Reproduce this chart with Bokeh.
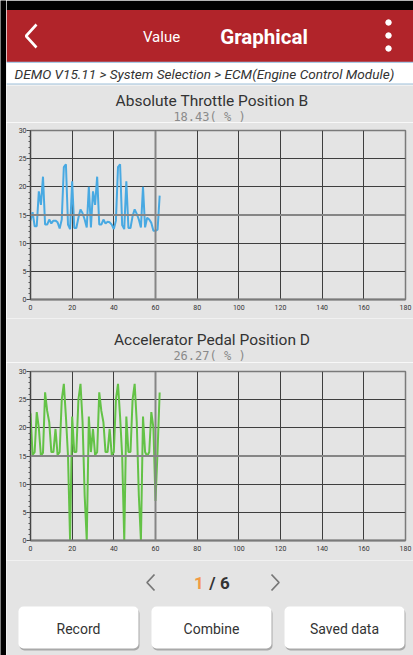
from bokeh.plotting import figure
from bokeh.layouts import column, row
from bokeh.models import Range1d, FixedTicker, Span, BoxAnnotation
from bokeh.core.properties import value
from bokeh.embed import file_html
from bokeh.resources import INLINE

# ---------------- data ----------------
header_back = "Value"
header_title = "Graphical"
breadcrumb = "DEMO V15.11 > System Selection > ECM(Engine Control Module)"
chart_titles = ["Absolute Throttle Position B", "Accelerator Pedal Position D"]
chart_readouts = ["18.43( % )", "26.27( % )"]

sample_index = list(range(63))
throttle_values = [14.0, 15.5, 13.0, 13.0, 19.2, 16.8, 21.8, 13.3, 13.3, 14.2,
                   13.5, 14.0, 14.0, 13.7, 12.6, 14.2, 23.5, 24.0, 13.3, 12.5,
                   21.0, 12.7, 12.7, 14.5, 16.0, 15.3, 14.2, 12.8, 20.0, 12.8,
                   19.2, 16.8, 21.8, 13.3, 13.3, 14.2, 13.5, 13.8, 13.7, 13.3,
                   12.5, 14.0, 23.5, 24.0, 13.2, 12.5, 21.0, 12.7, 12.7, 14.8,
                   16.0, 15.2, 14.2, 12.8, 20.0, 12.8, 14.5, 14.2, 13.6, 12.2,
                   12.2, 12.4, 18.43]
pedal_values = [22.6, 15.2, 15.7, 22.8, 20.0, 15.0, 15.6, 26.3, 23.0, 21.0,
                15.7, 15.7, 19.8, 15.2, 15.7, 25.0, 27.8, 22.0, 15.0, 0.0,
                22.0, 15.7, 15.7, 25.0, 27.8, 21.0, 8.0, 0.0, 22.0, 15.7,
                19.8, 15.2, 15.7, 26.3, 23.0, 21.0, 15.7, 15.7, 19.8, 15.2,
                15.7, 25.0, 27.8, 22.0, 15.0, 0.0, 22.0, 15.7, 15.7, 25.0,
                27.8, 21.0, 8.0, 0.0, 22.0, 15.7, 15.0, 15.7, 22.8, 20.0,
                7.0, 16.0, 26.27]

x_ticks = [0, 20, 40, 60, 80, 100, 120, 140, 160, 180]
y_ticks = [0, 5, 10, 15, 20, 25, 30]
y_minor_ticks = list(range(0, 31))

page_current = "1"
page_total = "/ 6"
button_labels = ["Record", "Combine", "Saved data"]

# ---------------- style ----------------
BG = "#e4e4e4"
RED = "#b1242a"
X0 = 6          # width of the dark frame on the left
W = 413 - X0
FONT = value("Roboto")


def strip(top, bottom):
    p = figure(width=W, height=bottom - top, x_range=Range1d(X0, 413),
               y_range=Range1d(bottom, top), output_backend="svg",
               toolbar_location=None, min_border=0, frame_align=False,
               x_axis_location=None, y_axis_location=None)
    p.grid.visible = False
    p.outline_line_color = None
    p.background_fill_color = BG
    p.border_fill_color = BG
    return p


# dark frame on the left
edge = figure(width=X0, height=655, x_range=Range1d(0, 1), y_range=Range1d(0, 1),
              output_backend="svg", toolbar_location=None, min_border=0,
              frame_align=False, x_axis_location=None, y_axis_location=None)
edge.grid.visible = False
edge.outline_line_color = None
edge.background_fill_color = "black"
edge.border_fill_color = "black"

# header
hd = strip(0, 85)
hd.quad(left=[X0], right=[413], top=[0], bottom=[9.5], fill_color="black", line_color=None)
hd.quad(left=[X0], right=[413], top=[9.5], bottom=[61.5], fill_color=RED, line_color=None)
hd.quad(left=[X0], right=[413], top=[62], bottom=[83], fill_color="white", line_color=None)
hd.segment(x0=[X0, X0], x1=[413, 413], y0=[61.8, 83.5], y1=[61.8, 83.5],
           line_color="#a9cbe6", line_width=1.2)
hd.line(x=[36, 25.5, 36], y=[24, 35.5, 47], line_color="white", line_width=2.6)
hd.scatter(x=[388, 388, 388], y=[22, 35, 48], size=5.5, color="white")
hd.text(x=[161], y=[36], text=[header_back], text_font=FONT, text_font_size="15px",
        text_color="white", text_align="center", text_baseline="middle")
hd.text(x=[263.5], y=[36], text=[header_title], text_font=FONT, text_font_size="20.5px",
        text_font_style="bold", text_color="white", text_align="center",
        text_baseline="middle")
hd.text(x=[14], y=[73], text=[breadcrumb], text_font=FONT, text_font_size="13.6px",
        text_font_style="italic", text_color="#333333", text_align="left",
        text_baseline="middle")


def title_strip(top, bottom, title, readout, ty, ry):
    p = strip(top, bottom)
    p.text(x=[211.5], y=[ty], text=[title], text_font=FONT, text_font_size="15.5px",
           text_color="#333333", text_align="center", text_baseline="middle")
    p.text(x=[209], y=[ry], text=[readout], text_font=value("DejaVu Sans Mono"),
           text_font_size="12px", text_color="#8a8a8a", text_align="center",
           text_baseline="middle")
    return p


def chart(values, color, height, top_b, bottom_b):
    p = figure(width=W, height=height, x_range=Range1d(0, 180), y_range=Range1d(0, 30),
               output_backend="svg", toolbar_location=None, frame_align=False,
               min_border_left=30 - X0, min_border_right=8,
               min_border_top=top_b, min_border_bottom=bottom_b)
    p.background_fill_color = BG
    p.border_fill_color = BG
    p.outline_line_color = "#7a7a7a"
    p.outline_line_width = 1.5

    p.xgrid.ticker = FixedTicker(ticks=x_ticks)
    p.ygrid.ticker = FixedTicker(ticks=y_ticks)
    p.grid.grid_line_color = "#3e3e3e"
    p.grid.grid_line_width = 1

    p.xaxis.ticker = FixedTicker(ticks=x_ticks)
    p.xaxis.major_tick_out = 0
    p.xaxis.major_tick_in = 0
    p.xaxis.minor_tick_out = 0
    p.xaxis.axis_line_color = "#7a7a7a"
    p.xaxis.axis_line_width = 2
    p.xaxis.major_label_standoff = 5

    p.yaxis.ticker = FixedTicker(ticks=y_ticks, minor_ticks=y_minor_ticks)
    p.yaxis.major_tick_out = 4
    p.yaxis.major_tick_in = 0
    p.yaxis.minor_tick_out = 2
    p.yaxis.minor_tick_in = 0
    p.yaxis.major_tick_line_color = "#444444"
    p.yaxis.minor_tick_line_color = "#555555"
    p.yaxis.axis_line_color = "#444444"
    p.yaxis.axis_line_width = 1.2
    p.yaxis.major_label_standoff = 0

    for ax in (p.xaxis, p.yaxis):
        ax.major_label_text_font = "Roboto"
        ax.major_label_text_font_size = "7px"
        ax.major_label_text_color = "#333333"

    p.add_layout(Span(location=60, dimension="height", line_color="#858585", line_width=2))
    p.add_layout(Span(location=15, dimension="width", line_color="#858585", line_width=2))

    p.line(sample_index, values, line_color=color, line_width=2)
    return p


t1 = title_strip(85, 122, chart_titles[0], chart_readouts[0], 100, 116)
c1 = chart(throttle_values, "#48a9e2", 196, 8, 19)
t2 = title_strip(318, 362, chart_titles[1], chart_readouts[1], 339, 355)
c2 = chart(pedal_values, "#63c246", 198, 9, 20)

# footer
ft = strip(560, 655)
ft.line(x=[154, 146.5, 154], y=[574, 582, 590], line_color="#777777", line_width=1.8)
ft.line(x=[271, 278.5, 271], y=[574, 582, 590], line_color="#777777", line_width=1.8)
ft.text(x=[198.5], y=[582], text=[page_current], text_font=FONT, text_font_size="17px",
        text_font_style="bold", text_color="#f29a45", text_align="center",
        text_baseline="middle")
ft.text(x=[219], y=[582], text=[page_total], text_font=FONT, text_font_size="17px",
        text_font_style="bold", text_color="#333333", text_align="center",
        text_baseline="middle")
btn_lefts = [18, 151, 284]
btn_w = 120
for bl, lab in zip(btn_lefts, button_labels):
    ft.add_layout(BoxAnnotation(left=bl + 1, right=bl + btn_w + 1, top=608, bottom=650,
                                fill_color="#9a9a9a", fill_alpha=0.8, line_color=None,
                                border_radius=5, level="underlay"))
    ft.add_layout(BoxAnnotation(left=bl, right=bl + btn_w, top=606, bottom=648,
                                fill_color="white", fill_alpha=1.0, line_color=None,
                                border_radius=5, level="underlay"))
    ft.text(x=[bl + btn_w / 2], y=[628], text=[lab], text_font=FONT, text_font_size="14px",
            text_color="#333333", text_align="center", text_baseline="middle")

layout = row(edge, column(hd, t1, c1, t2, c2, ft, spacing=0), spacing=0)
open("out.html", "w").write(file_html(layout, INLINE))
